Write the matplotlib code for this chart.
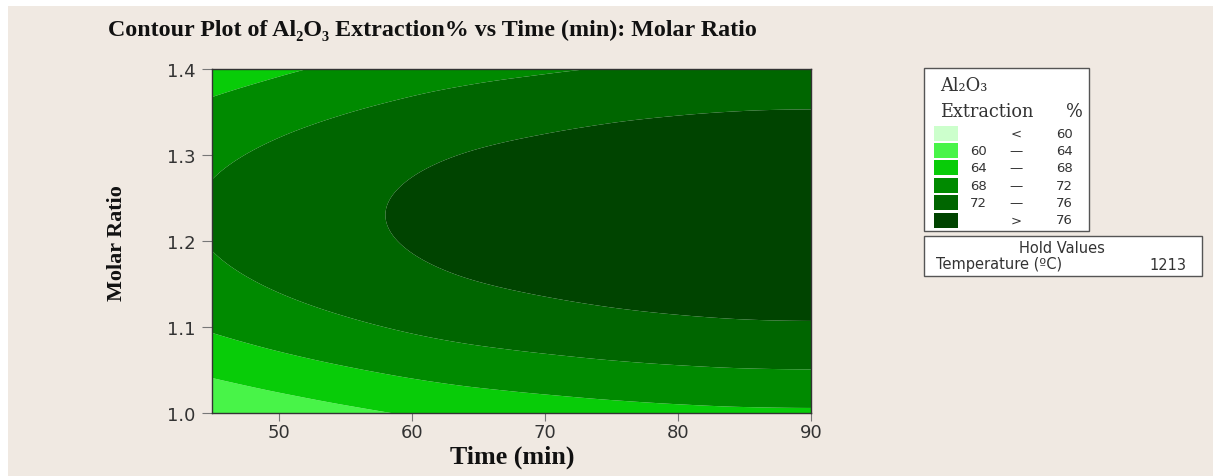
import numpy as np
import matplotlib
matplotlib.use("Agg")
import matplotlib.pyplot as plt
import matplotlib.tri as mtri
from matplotlib.patches import Rectangle

# grid of the fitted response
time_min = [45, 50, 55, 60, 65, 70, 75, 80, 85, 90]
molar_ratio = [1.00, 1.05, 1.10, 1.15, 1.20, 1.25, 1.30, 1.35, 1.40]
extraction = [
    [60.30, 61.80, 63.15, 64.35, 65.30, 66.00, 66.60, 67.05, 67.35, 67.45],
    [64.79, 66.29, 67.64, 68.84, 69.79, 70.49, 71.09, 71.54, 71.84, 71.94],
    [68.43, 69.93, 71.28, 72.48, 73.43, 74.13, 74.73, 75.18, 75.48, 75.58],
    [70.90, 72.40, 73.75, 74.95, 75.90, 76.60, 77.20, 77.65, 77.95, 78.05],
    [72.19, 73.69, 75.04, 76.24, 77.19, 77.89, 78.49, 78.94, 79.24, 79.34],
    [72.31, 73.81, 75.16, 76.36, 77.31, 78.01, 78.61, 79.06, 79.36, 79.46],
    [71.25, 72.75, 74.10, 75.30, 76.25, 76.95, 77.55, 78.00, 78.30, 78.40],
    [69.02, 70.52, 71.87, 73.07, 74.02, 74.72, 75.32, 75.77, 76.07, 76.17],
    [65.90, 67.40, 68.75, 69.95, 70.90, 71.60, 72.20, 72.65, 72.95, 73.05],
]

levels = [0, 60, 64, 68, 72, 76, 100]
band_colors = ['#ccffcc', '#48f448', '#08cc08', '#008a00', '#006600', '#004400']
legend_rows = [('', '<', '60'), ('60', '—', '64'), ('64', '—', '68'),
               ('68', '—', '72'), ('72', '—', '76'), ('', '>', '76')]
hold_name = 'Temperature (ºC)'
hold_value = '1213'

W, H = 1213, 477


def fx(x):
    return x / W


def fy(y):
    return 1 - y / H


fig = plt.figure(figsize=(W / 100, H / 100), dpi=100)
fig.patch.set_facecolor('white')
fig.add_artist(Rectangle((fx(8), 0), 1 - fx(8), fy(7), transform=fig.transFigure,
                         facecolor='#f0e9e2', edgecolor='none', zorder=-10))

ax = fig.add_axes([fx(212), fy(414), (811 - 212) / W, (414 - 70) / H])

# smooth the grid with matplotlib's cubic tri interpolation (in unit coordinates)
T, R = np.meshgrid(time_min, molar_ratio)
Z = np.array(extraction)
u = (T.ravel() - 45) / 45.0
v = (R.ravel() - 1.0) / 0.4
nx, ny = len(time_min), len(molar_ratio)
tris = []
for i in range(ny - 1):
    for j in range(nx - 1):
        a = i * nx + j
        tris.append([a, a + 1, a + nx + 1])
        tris.append([a, a + nx + 1, a + nx])
tri_n = mtri.Triangulation(u, v, triangles=tris)
interp = mtri.CubicTriInterpolator(tri_n, Z.ravel(), kind='min_E')
tri_ref, z_ref = mtri.UniformTriRefiner(tri_n).refine_field(Z.ravel(), triinterpolator=interp, subdiv=4)
tri_plot = mtri.Triangulation(45 + 45 * tri_ref.x, 1.0 + 0.4 * tri_ref.y, triangles=tri_ref.triangles)
ax.tricontourf(tri_plot, z_ref, levels=levels, colors=band_colors, antialiased=True)

ax.set_xlim(45, 90)
ax.set_ylim(1.0, 1.4)
ax.set_xticks([50, 60, 70, 80, 90])
ax.set_yticks([1.0, 1.1, 1.2, 1.3, 1.4])
ax.set_yticklabels(['1.0', '1.1', '1.2', '1.3', '1.4'])
ax.tick_params(direction='out', length=7, width=0.8, color='#777777',
               labelsize=13, labelcolor='#333333')
ax.tick_params(axis='y', pad=5)
ax.tick_params(axis='x', length=6, pad=1)
for sp in ax.spines.values():
    sp.set_color('#333333')
    sp.set_linewidth(1.0)

renderer = fig.canvas.get_renderer()


def fit(txt, target, horiz=True):
    bb = txt.get_window_extent(renderer)
    size = bb.width if horiz else bb.height
    txt.set_fontsize(txt.get_fontsize() * target / size)


serif = ['Liberation Serif', 'DejaVu Serif']

title = fig.text(fx(108), fy(30), 'Contour Plot of Al₂O₃ Extraction% vs Time (min): Molar Ratio',
                 family=serif, weight='bold', fontsize=14,
                 color='#111111', ha='left', va='center')
fit(title, 650)

xl = fig.text(fx(512), fy(457), 'Time (min)', family=serif,
              weight='bold', fontsize=16, color='#111111', ha='center', va='center')
fit(xl, 125)

yl = fig.text(fx(117), fy(243), 'Molar Ratio', family=serif,
              weight='bold', fontsize=16, color='#111111', ha='center', va='center', rotation=90)
fit(yl, 116, horiz=False)

# legend box
fig.add_artist(Rectangle((fx(924), fy(232)), (1089 - 924) / W, (232 - 69) / H,
                         transform=fig.transFigure, facecolor='white',
                         edgecolor='#555555', linewidth=1))
t1 = fig.text(fx(940), fy(86), 'Al₂O₃', family=['DejaVu Serif'],
              fontsize=10.5, color='#333333', ha='left', va='center')
fit(t1, 48)
t2 = fig.text(fx(940), fy(112), 'Extraction', family=['DejaVu Serif'],
              fontsize=11, color='#333333', ha='left', va='center')
fit(t2, 94)
fig.text(fx(1083), fy(112), '%', family=['DejaVu Serif'],
         fontsize=t2.get_fontsize(), color='#333333', ha='right', va='center')

for k, (lo, sym, hi) in enumerate(legend_rows):
    yc = 134 + k * 17.4
    fig.add_artist(Rectangle((fx(934), fy(yc + 7.5)), 24 / W, 15 / H,
                             transform=fig.transFigure, facecolor=band_colors[k],
                             edgecolor='none'))
    fs = 9.5
    if lo:
        fig.text(fx(987), fy(yc), lo, fontsize=fs, color='#333333', ha='right', va='center')
    fig.text(fx(1016), fy(yc), sym, fontsize=fs, color='#333333', ha='center', va='center')
    fig.text(fx(1073), fy(yc), hi, fontsize=fs, color='#333333', ha='right', va='center')

# hold values box
fig.add_artist(Rectangle((fx(924), fy(277)), (1202 - 924) / W, (277 - 237) / H,
                         transform=fig.transFigure, facecolor='white',
                         edgecolor='#555555', linewidth=1))
fig.text(fx(1062), fy(249), 'Hold Values', fontsize=10.5, color='#333333', ha='center', va='center')
fig.text(fx(936), fy(265), hold_name, fontsize=10.5, color='#333333', ha='left', va='center')
fig.text(fx(1186), fy(265), hold_value, fontsize=10.5, color='#333333', ha='right', va='center')

fig.savefig('out.png', dpi=100)
